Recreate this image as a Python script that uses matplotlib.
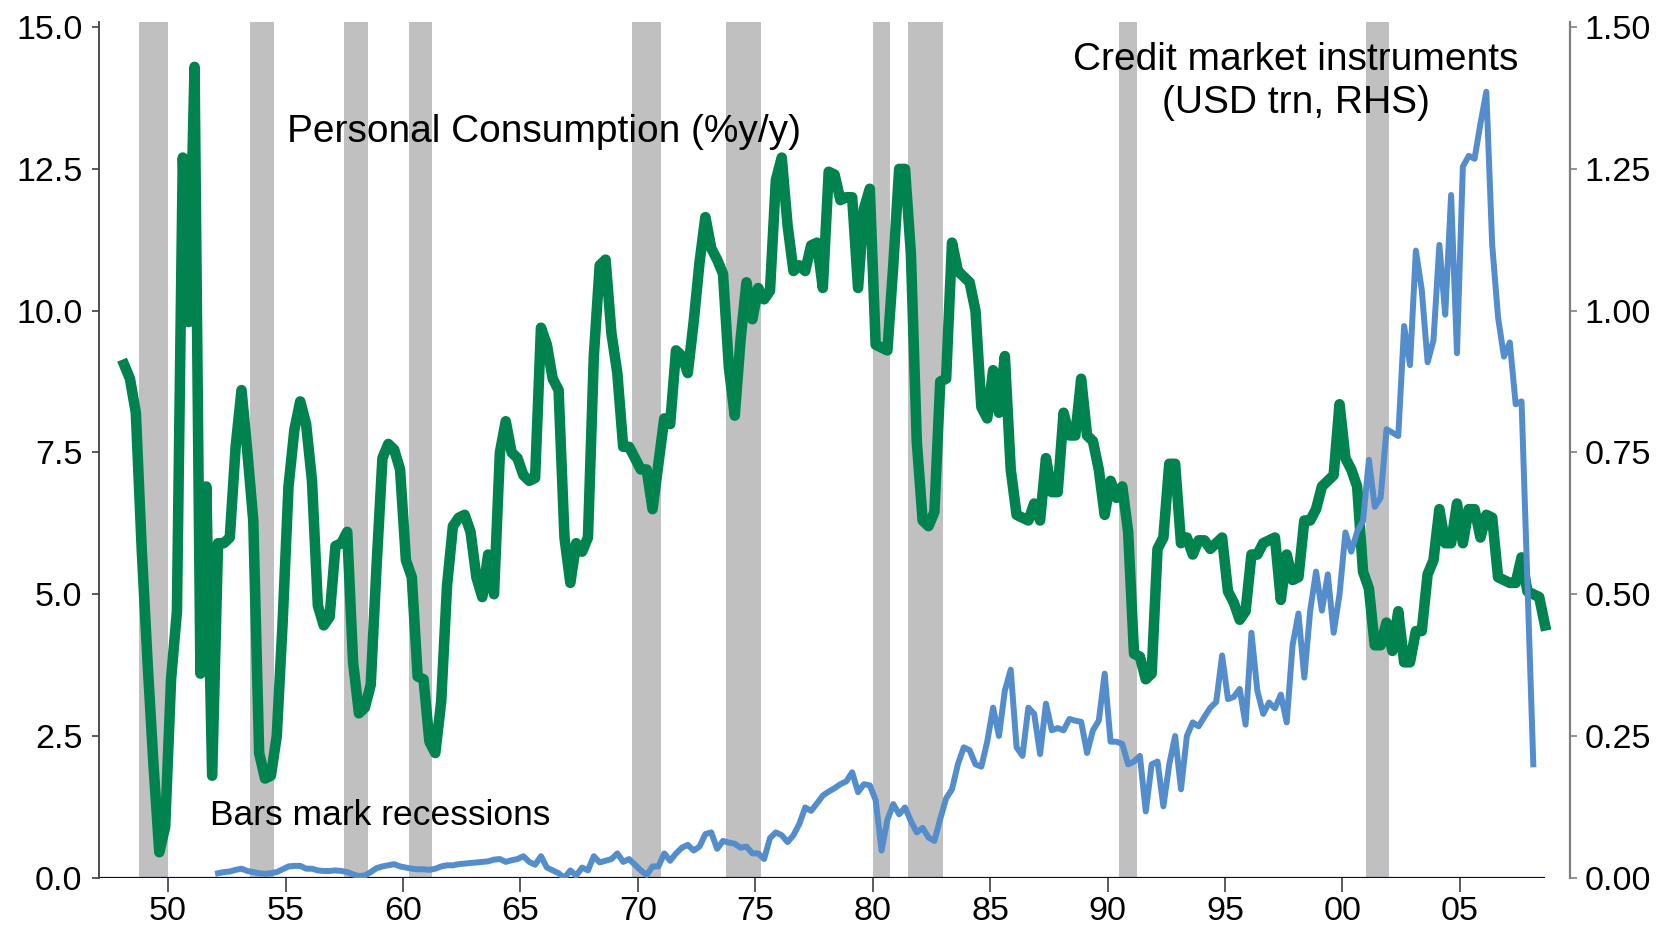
import matplotlib
matplotlib.use("Agg")
import matplotlib.pyplot as plt
from matplotlib.ticker import FormatStrFormatter

plt.rcParams['font.family'] = ['Liberation Sans', 'DejaVu Sans']

# Personal consumption, %y/y, quarterly from 1948Q1
consumo = [
    9.05, 8.8, 8.2, 5.8,
    3.8, 2.0, 0.45, 0.9,
    3.5, 4.7, 12.7, 9.8,
    14.3, 3.6, 6.9, 1.8,
    5.9, 5.9, 6.0, 7.6,
    8.6, 7.5, 6.3, 2.2,
    1.75, 1.8, 2.5, 4.5,
    6.9, 7.9, 8.4, 8.0,
    7.0, 4.8, 4.45, 4.6,
    5.85, 5.9, 6.1, 3.8,
    2.9, 3.0, 3.4, 5.5,
    7.4, 7.65, 7.55, 7.2,
    5.6, 5.3, 3.55, 3.5,
    2.4, 2.2, 3.1, 5.15,
    6.2, 6.35, 6.4, 6.1,
    5.3, 4.95, 5.7, 5.0,
    7.5, 8.05, 7.5, 7.4,
    7.1, 7.0, 7.05, 9.7,
    9.4, 8.8, 8.6, 6.0,
    5.2, 5.9, 5.75, 6.0,
    9.2, 10.8, 10.9, 9.6,
    8.9, 7.6, 7.6, 7.4,
    7.2, 7.2, 6.5, 7.3,
    8.1, 8.0, 9.3, 9.2,
    8.9, 9.8, 10.85, 11.65,
    11.1, 10.9, 10.65, 9.0,
    8.15, 9.5, 10.5, 9.85,
    10.4, 10.2, 10.35, 12.3,
    12.7, 11.5, 10.7, 10.8,
    10.7, 11.15, 11.2, 10.4,
    12.45, 12.4, 11.95, 12.0,
    12.0, 10.4, 11.8, 12.15,
    9.4, 9.35, 9.3, 10.8,
    12.5, 12.5, 11.0, 7.7,
    6.3, 6.2, 6.45, 8.75,
    8.8, 11.2, 10.7, 10.6,
    10.5, 10.0, 8.3, 8.1,
    8.95, 8.2, 9.2, 7.2,
    6.4, 6.35, 6.3, 6.6,
    6.3, 7.4, 6.8, 6.8,
    8.2, 7.8, 7.8, 8.8,
    7.8, 7.7, 7.2, 6.4,
    7.0, 6.7, 6.9, 6.1,
    3.95, 3.9, 3.5, 3.6,
    5.8, 6.0, 7.3, 7.3,
    5.9, 6.0, 5.7, 5.95,
    5.95, 5.8, 5.9, 6.0,
    5.05, 4.85, 4.55, 4.7,
    5.7, 5.7, 5.9, 5.95,
    6.0, 4.9, 5.7, 5.25,
    5.3, 6.3, 6.3, 6.5,
    6.9, 7.0, 7.1, 8.35,
    7.4, 7.2, 6.9, 5.4,
    5.1, 4.1, 4.1, 4.5,
    4.0, 4.7, 3.8, 3.8,
    4.35, 4.35, 5.35, 5.6,
    6.5, 5.9, 5.9, 6.6,
    5.9, 6.5, 6.5, 6.0,
    6.4, 6.35, 5.3, 5.25,
    5.2, 5.2, 5.65, 5.05,
    5.0, 4.95, 4.45,
]

# Credit market instruments, USD trn, quarterly from 1952Q1
credito = [
    0.008, 0.01, 0.011, 0.014,
    0.016, 0.012, 0.01, 0.008,
    0.007, 0.008, 0.01, 0.015,
    0.02, 0.021, 0.021, 0.016,
    0.016, 0.013, 0.012, 0.012,
    0.013, 0.012, 0.01, 0.006,
    0.003, 0.004, 0.01, 0.017,
    0.02, 0.022, 0.024, 0.02,
    0.018, 0.016, 0.015, 0.015,
    0.014, 0.016, 0.02, 0.022,
    0.022, 0.024, 0.025, 0.026,
    0.027, 0.028, 0.029, 0.032,
    0.033, 0.028, 0.031, 0.033,
    0.038, 0.028, 0.023, 0.038,
    0.018, 0.013, 0.008, 0.0,
    0.013, 0.004, 0.018, 0.013,
    0.038, 0.027, 0.03, 0.033,
    0.043, 0.028, 0.033, 0.023,
    0.013, 0.005, 0.02, 0.02,
    0.043, 0.03, 0.043, 0.053,
    0.058, 0.048, 0.055, 0.077,
    0.08, 0.051, 0.065, 0.062,
    0.06, 0.053, 0.055, 0.043,
    0.043, 0.033, 0.07, 0.08,
    0.075, 0.063, 0.075, 0.095,
    0.124, 0.118, 0.131, 0.145,
    0.152, 0.158, 0.165, 0.17,
    0.186, 0.151, 0.165, 0.163,
    0.137, 0.048, 0.102, 0.13,
    0.112, 0.124, 0.1, 0.08,
    0.088, 0.071, 0.065, 0.104,
    0.14, 0.156, 0.2, 0.23,
    0.225, 0.2, 0.196, 0.24,
    0.30, 0.25, 0.33, 0.367,
    0.23, 0.215, 0.3, 0.289,
    0.218, 0.307, 0.26, 0.264,
    0.26, 0.28, 0.277, 0.275,
    0.22, 0.26, 0.277, 0.36,
    0.24, 0.24, 0.236, 0.2,
    0.205, 0.215, 0.117, 0.2,
    0.205, 0.126, 0.2, 0.25,
    0.156, 0.25, 0.274, 0.267,
    0.284, 0.3, 0.31, 0.392,
    0.315, 0.319, 0.333, 0.27,
    0.432, 0.33, 0.289, 0.309,
    0.299, 0.323, 0.274, 0.41,
    0.466, 0.353, 0.471, 0.54,
    0.471, 0.535, 0.432, 0.5,
    0.609, 0.575, 0.61, 0.629,
    0.737, 0.654, 0.67, 0.791,
    0.785, 0.779, 0.973, 0.904,
    1.106, 1.037, 0.909, 0.948,
    1.116, 0.993, 1.204, 0.925,
    1.254, 1.273, 1.268, 1.33,
    1.386, 1.116, 0.988, 0.919,
    0.944, 0.835, 0.84, 0.52,
    0.2,
]

# recession bars (start, end) in years
recesiones = [(1948.75, 1950.0), (1953.5, 1954.5), (1957.5, 1958.5),
              (1960.25, 1961.25), (1969.75, 1971.0), (1973.75, 1975.25),
              (1980.0, 1980.75), (1981.5, 1983.0), (1990.5, 1991.25),
              (2001.0, 2002.0)]

anios_ticks = [1950, 1955, 1960, 1965, 1970, 1975, 1980, 1985, 1990, 1995, 2000, 2005]
etiquetas_x = ["50", "55", "60", "65", "70", "75", "80", "85", "90", "95", "00", "05"]

fechas_consumo = [1948.125 + 0.25 * i for i in range(len(consumo))]
fechas_credito = [1952.125 + 0.25 * i for i in range(len(credito))]

fig = plt.figure(figsize=(16.68, 9.34), dpi=100)
ax = fig.add_axes([0.0594, 0.0602, 0.8816, 0.9162])
ax2 = ax.twinx()

x0, x1 = 1947.06, 2009.67
ax.set_xlim(x0, x1)
ax.set_ylim(0, 15.09)
ax2.set_ylim(0, 1.509)

for ini, fin in recesiones:
    ax.axvspan(ini, fin, color="#C0C0C0", lw=0, zorder=0)

ax.hlines(0, x0, fechas_consumo[-1], color="#000080", lw=1.6, zorder=2)
ax.plot(fechas_consumo, consumo, color="#00834F", lw=7.6, zorder=3)
ax2.plot(fechas_credito, credito, color="#548DCC", lw=4.3, zorder=4)

for a in (ax, ax2):
    a.spines["top"].set_visible(False)
    a.spines["bottom"].set_visible(False)
ax.spines["right"].set_visible(False)
ax2.spines["left"].set_visible(False)
ax.spines["left"].set_color("#404040")
ax.spines["left"].set_linewidth(1.3)
ax2.spines["right"].set_color("#7F7F7F")
ax2.spines["right"].set_linewidth(1.6)

ax.set_xticks(anios_ticks)
ax.set_xticklabels(etiquetas_x)
ax.set_yticks([0, 2.5, 5, 7.5, 10, 12.5, 15])
ax.yaxis.set_major_formatter(FormatStrFormatter("%.1f"))
ax2.set_yticks([0, 0.25, 0.5, 0.75, 1.0, 1.25, 1.5])
ax2.yaxis.set_major_formatter(FormatStrFormatter("%.2f"))

ax.tick_params(axis="x", direction="out", length=10, width=1.2, color="#404040",
               labelsize=24.5, pad=3)
ax.tick_params(axis="y", direction="out", length=5, width=1.2, color="#404040",
               labelsize=24.5, pad=7)
ax2.tick_params(axis="y", direction="out", length=5, width=1.2, color="#7F7F7F",
                labelsize=24.5, pad=6)

ax.text(1955.07, 13.15, "Personal Consumption (%y/y)", fontsize=28,
        ha="left", va="center")
ax.text(1998.02, 14.05, "Credit market instruments\n(USD trn, RHS)", fontsize=28,
        ha="center", va="center", linespacing=1.25)
ax.text(1951.79, 1.09, "Bars mark recessions", fontsize=25.5,
        ha="left", va="center")

fig.savefig("out.png", dpi=100)
